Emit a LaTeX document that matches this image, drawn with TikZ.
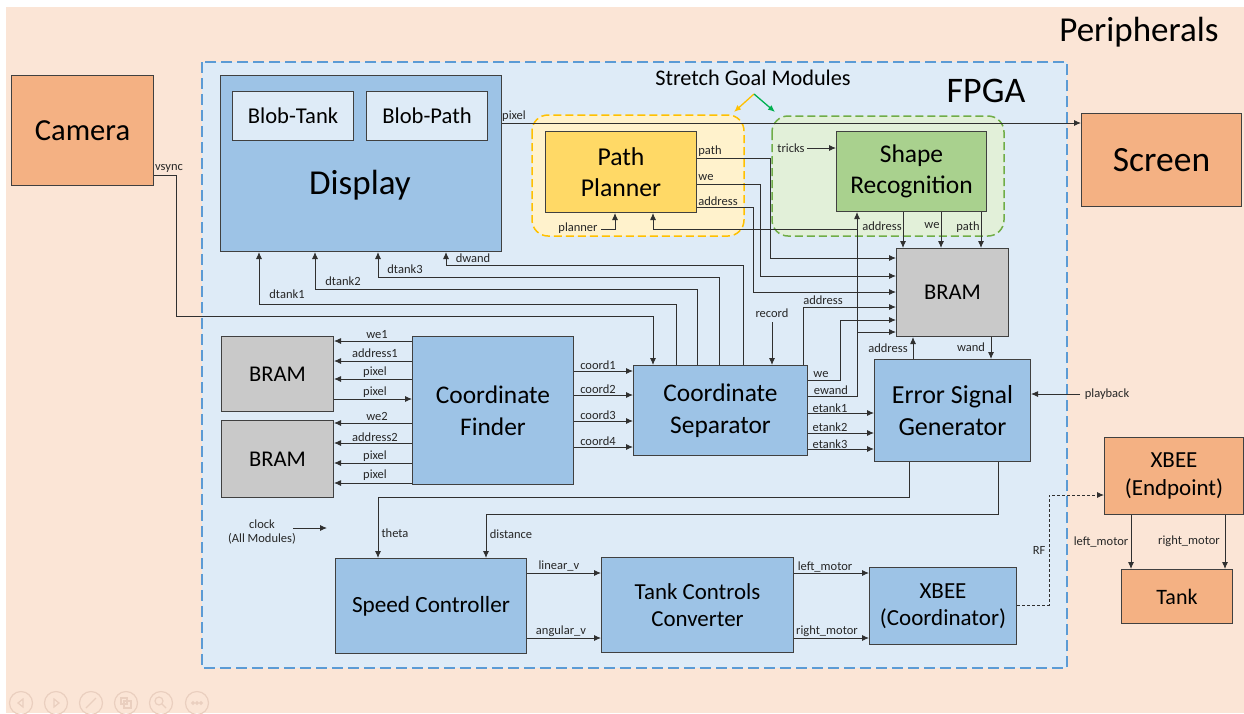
\documentclass[tikz,border=0pt]{standalone}
\usepackage{fontspec}
\setmainfont{Carlito}
\usetikzlibrary{arrows.meta}

\definecolor{peach}{HTML}{FBE5D6}
\definecolor{fpgafill}{HTML}{DEEBF7}
\definecolor{fpgaline}{HTML}{5B9BD5}
\definecolor{bluebox}{HTML}{9DC3E6}
\definecolor{orangebox}{HTML}{F4B183}
\definecolor{graybox}{HTML}{C9C9C9}
\definecolor{yellowbox}{HTML}{FFD966}
\definecolor{yellowfill}{HTML}{FFF2CC}
\definecolor{yellowline}{HTML}{FFC000}
\definecolor{greenfill}{HTML}{E2F0D9}
\definecolor{greenline}{HTML}{70AD47}
\definecolor{greenbox}{HTML}{A9D18E}
\definecolor{arrowgreen}{HTML}{00B050}
\definecolor{boxline}{HTML}{404040}
\definecolor{wirecol}{HTML}{303030}
\definecolor{labcol}{HTML}{262626}
\definecolor{iconcol}{HTML}{EACFBF}

\tikzset{
  box/.style={draw=boxline, line width=1pt, anchor=north west, inner sep=0pt,
    align=center, text=black},
  lab/.style={font=\fontsize{12.5}{14}\selectfont, inner sep=0pt, text=labcol},
  wire/.style={draw=wirecol, line width=0.9pt},
  arr/.style={wire, -{Latex[length=7pt,width=6pt]}},
  bigtext/.style={font=\fontsize{#1}{40}\selectfont},
}

\begin{document}
\begin{tikzpicture}[x=1pt,y=-1pt]
\useasboundingbox (0,0) rectangle (1244,713);
\fill[white] (0,0) rectangle (1244,713);
\fill[peach] (6,7) rectangle (1244,713);

% slide controls
\begin{scope}[iconcol, line width=1.2pt]
  \foreach \cx in {21,56,91,126,161,197}
    \draw (\cx,703) circle (11.5);
  \draw (23,699) -- (18,703) -- (23,707) -- cycle;
  \draw (54,699) -- (59,703) -- (54,707) -- cycle;
  \draw (86,708) -- (96,698);
  \draw (121,698) rectangle (127,704);
  \draw (124,701) rectangle (131,708);
  \draw (159,701) circle (4);
  \draw (162,704) -- (166,708);
  \foreach \dx in {-4,0,4}
    \draw (197+\dx,703) circle (1.3);
\end{scope}

% FPGA region
\draw[fpgaline, fill=fpgafill, line width=1.5pt, dash pattern=on 11pt off 5pt]
  (202,62) rectangle (1067,668);

\node[font=\fontsize{35}{40}\selectfont] (tperiph) at (1139,32) {Peripherals};
\node[font=\fontsize{36}{40}\selectfont] (tfpga) at (986,91) {FPGA};

% stretch goal containers
\draw[yellowline, fill=yellowfill, line width=1.5pt, dash pattern=on 8pt off 4pt,
  rounded corners=16pt] (532,115) rectangle (744,236);
\draw[greenline, fill=greenfill, line width=1.5pt, dash pattern=on 8pt off 4pt,
  rounded corners=16pt] (772,116) rectangle (1004,236);
\node[font=\fontsize{22.3}{26}\selectfont] (tstretch) at (753,78) {Stretch Goal Modules};
\coordinate (sgorigin) at (754,94);
\coordinate (sgyellow) at (734,112);
\coordinate (sggreen) at (775,112);
\draw[yellowline, line width=1.3pt, -{Latex[length=7pt,width=6pt]}] (sgorigin) -- (sgyellow);
\draw[arrowgreen, line width=1.3pt, -{Latex[length=7pt,width=6pt]}] (sgorigin) -- (sggreen);

% blocks
\node[box, fill=orangebox, minimum width=142pt, minimum height=110pt, bigtext=30.6] (cam) at (11,75) {Camera};
\node[box, fill=bluebox, minimum width=281pt, minimum height=176pt] (disp) at (220,75) {};
\node[bigtext=35] (tdisp) at (360,185) {Display};
\node[box, fill=fpgafill, minimum width=121pt, minimum height=49pt, bigtext=22.6] (btank) at (232,91) {Blob-Tank};
\node[box, fill=fpgafill, minimum width=121pt, minimum height=49pt, bigtext=22.6] (bpath) at (366,91) {Blob-Path};
\node[box, fill=yellowbox, minimum width=151pt, minimum height=81pt, font=\fontsize{25.7}{31}\selectfont] (pp) at (545,131) {Path\\Planner};
\node[box, fill=greenbox, minimum width=150pt, minimum height=80pt, font=\fontsize{25.5}{31}\selectfont] (sr) at (836,131) {Shape\\Recognition};
\node[box, fill=orangebox, minimum width=160pt, minimum height=93pt, bigtext=35.5] (scr) at (1081,113) {Screen};
\node[box, fill=graybox, minimum width=112pt, minimum height=88pt, bigtext=22.5] (bram) at (896,248) {BRAM};
\node[box, fill=bluebox, minimum width=156pt, minimum height=102pt, font=\fontsize{26}{32}\selectfont] (esg) at (874,359) {Error Signal\\Generator};
\node[box, fill=bluebox, minimum width=174pt, minimum height=90pt, font=\fontsize{25.4}{32}\selectfont] (cs) at (633,365) {Coordinate\\Separator};
\node[box, fill=bluebox, minimum width=161pt, minimum height=148pt, font=\fontsize{25.4}{32}\selectfont] (cf) at (412,336) {Coordinate\\Finder};
\node[box, fill=graybox, minimum width=112pt, minimum height=75pt, bigtext=22.5] (bramA) at (221,336) {BRAM};
\node[box, fill=graybox, minimum width=112pt, minimum height=77pt, bigtext=22.5] (bramB) at (221,420) {BRAM};
\node[box, fill=bluebox, minimum width=191pt, minimum height=95pt, bigtext=23.2] (spd) at (335,558) {Speed Controller};
\node[box, fill=bluebox, minimum width=192pt, minimum height=95pt, font=\fontsize{22.9}{27}\selectfont] (tcc) at (601,557) {Tank Controls\\Converter};
\node[box, fill=bluebox, minimum width=147pt, minimum height=77pt, font=\fontsize{23}{27}\selectfont] (xc) at (869,567) {XBEE\\(Coordinator)};
\node[box, fill=orangebox, minimum width=139pt, minimum height=77pt, font=\fontsize{23}{28}\selectfont] (xe) at (1104,437) {XBEE\\(Endpoint)};
\node[box, fill=orangebox, minimum width=111pt, minimum height=54pt, bigtext=22] (tank) at (1121,569) {Tank};

% free ends of inputs
\coordinate (tricksin) at (807,148);
\coordinate (plannerin) at (601,229);
\coordinate (recordin) at (772,322);
\coordinate (playbackin) at (1080,394);
\coordinate (clockA) at (293,528);
\coordinate (clockB) at (327,528);

% camera sync into the separator
\draw[arr] (cam.east |- 0,175) -- (176,175) -- (176,316) -- (653,316) -- (cs.north -| 653,0);

% separator outputs to display
\draw[arr] (cs.north -| 676,0) -- (676,304) -- (259,304) -- (disp.south -| 259,0);
\draw[arr] (cs.north -| 697,0) -- (697,289) -- (315,289) -- (disp.south -| 315,0);
\draw[arr] (cs.north -| 719,0) -- (719,277) -- (378,277) -- (disp.south -| 378,0);
\draw[arr] (cs.north -| 743,0) -- (743,265) -- (446,265) -- (disp.south -| 446,0);

% display to screen
\draw[arr] (disp.east |- 0,123) -- (scr.west |- 0,123);

% path planner outputs to BRAM
\draw[arr] (pp.east |- 0,158) -- (770,158) -- (770,258) -- (bram.west |- 0,258);
\draw[arr] (pp.east |- 0,184) -- (760,184) -- (760,276) -- (bram.west |- 0,276);
\draw[arr] (pp.east |- 0,207) -- (753,207) -- (753,292) -- (bram.west |- 0,292);

% stretch module inputs
\draw[arr] (tricksin) -- (sr.west |- tricksin);
\draw[arr] (plannerin) -- (615,229) -- (pp.south -| 615,0);

% shape recognition to BRAM
\draw[arr] (sr.south -| 903,0) -- (bram.north -| 903,0);
\draw[arr] (sr.south -| 941,0) -- (bram.north -| 941,0);
\draw[arr] (sr.south -| 981,0) -- (bram.north -| 981,0);

% separator to BRAM
\draw[arr] (cs.north -| 803,0) -- (803,307) -- (bram.west |- 0,307);
\draw[arr] (recordin) -- (cs.north -| recordin);
\draw[arr] (cs.east |- 0,380) -- (840,380) -- (840,320) -- (bram.west |- 0,320);
\draw[arr] (cs.east |- 0,396) -- (857,396) -- (sr.south -| 857,0);
\draw[arr] (857,332) -- (bram.west |- 0,332);
\draw[arr] (857,229) -- (653,229) -- (pp.south -| 653,0);

% BRAM and error signal generator
\draw[arr] (esg.north -| 913,0) -- (bram.south -| 913,0);
\draw[arr] (bram.south -| 991,0) -- (esg.north -| 991,0);
\draw[arr] (playbackin) -- (esg.east |- playbackin);
\draw[arr] (cs.east |- 0,413) -- (esg.west |- 0,413);
\draw[arr] (cs.east |- 0,433) -- (esg.west |- 0,433);
\draw[arr] (cs.east |- 0,449) -- (esg.west |- 0,449);

% coordinate finder and its BRAMs
\draw[arr] (cf.west |- 0,341) -- (bramA.east |- 0,341);
\draw[arr] (cf.west |- 0,361) -- (bramA.east |- 0,361);
\draw[arr] (cf.west |- 0,379) -- (bramA.east |- 0,379);
\draw[arr] (bramA.east |- 0,399) -- (cf.west |- 0,399);
\draw[arr] (cf.west |- 0,423) -- (bramB.east |- 0,423);
\draw[arr] (cf.west |- 0,443) -- (bramB.east |- 0,443);
\draw[arr] (cf.west |- 0,463) -- (bramB.east |- 0,463);
\draw[arr] (cf.west |- 0,483) -- (bramB.east |- 0,483);
\draw[arr] (cf.east |- 0,371) -- (cs.west |- 0,371);
\draw[arr] (cf.east |- 0,395) -- (cs.west |- 0,395);
\draw[arr] (cf.east |- 0,421) -- (cs.west |- 0,421);
\draw[arr] (cf.east |- 0,447) -- (cs.west |- 0,447);

% control path
\draw[arr] (esg.south -| 909,0) -- (909,497) -- (378,497) -- (spd.north -| 378,0);
\draw[arr] (esg.south -| 998,0) -- (998,514) -- (486,514) -- (spd.north -| 486,0);
\draw[arr] (clockA) -- (clockB);
\draw[arr] (spd.east |- 0,573) -- (tcc.west |- 0,573);
\draw[arr] (spd.east |- 0,638) -- (tcc.west |- 0,638);
\draw[arr] (tcc.east |- 0,573) -- (xc.west |- 0,573);
\draw[arr] (tcc.east |- 0,638) -- (xc.west |- 0,638);
\draw[arr, dash pattern=on 3pt off 2pt] (xc.east |- 0,605) -- (1049,605) -- (1049,495) -- (xe.west |- 0,495);
\draw[arr] (xe.south -| 1131,0) -- (tank.north -| 1131,0);
\draw[arr] (xe.south -| 1225,0) -- (tank.north -| 1225,0);

% signal labels
\node[lab] (lvsync) at (169,168) {vsync};
\node[lab] (lpixel) at (514,116) {pixel};
\node[lab] (ldt1) at (287,294) {dtank1};
\node[lab] (ldt2) at (343,281) {dtank2};
\node[lab] (ldt3) at (405,269) {dtank3};
\node[lab] (ldw) at (473,258) {dwand};
\node[lab] (lppath) at (710,151) {path};
\node[lab] (lppwe) at (706,178) {we};
\node[lab] (lppaddr) at (718,201) {address};
\node[lab] (ltricks) at (791,148) {tricks};
\node[lab] (lplanner) at (578,228) {planner};
\node[lab] (lsraddr) at (882,226) {address};
\node[lab] (lsrwe) at (932,226) {we};
\node[lab] (lsrpath) at (968,227) {path};
\node[lab] (lcsaddr) at (823,300) {address};
\node[lab] (lrecord) at (772,313) {record};
\node[lab] (lcswe) at (821,375) {we};
\node[lab] (lewand) at (831,390) {ewand};
\node[lab] (let1) at (830,408) {etank1};
\node[lab] (let2) at (830,427) {etank2};
\node[lab] (let3) at (830,444) {etank3};
\node[lab] (lbaddr) at (888,348) {address};
\node[lab] (lwand) at (971,347) {wand};
\node[lab] (lplay) at (1107,394) {playback};
\node[lab] (lwe1) at (377,335) {we1};
\node[lab] (laddr1) at (375,353) {address1};
\node[lab] (lpx1) at (375,372) {pixel};
\node[lab] (lpx2) at (375,392) {pixel};
\node[lab] (lwe2) at (377,416) {we2};
\node[lab] (laddr2) at (375,437) {address2};
\node[lab] (lpx3) at (375,456) {pixel};
\node[lab] (lpx4) at (375,475) {pixel};
\node[lab] (lc1) at (598,365) {coord1};
\node[lab] (lc2) at (598,389) {coord2};
\node[lab] (lc3) at (598,415) {coord3};
\node[lab] (lc4) at (598,441) {coord4};
\node[lab] (ltheta) at (395,533) {theta};
\node[lab] (ldist) at (511,534) {distance};
\node[lab, align=center] (lclock) at (262,532) {clock\\(All Modules)};
\node[lab] (llin) at (559,566) {linear\_v};
\node[lab] (lang) at (561,631) {angular\_v};
\node[lab] (llm) at (825,567) {left\_motor};
\node[lab] (lrm) at (827,631) {right\_motor};
\node[lab] (lrf) at (1039,550) {RF};
\node[lab] (ltlm) at (1101,542) {left\_motor};
\node[lab] (ltrm) at (1189,541) {right\_motor};
\end{tikzpicture}
\end{document}
